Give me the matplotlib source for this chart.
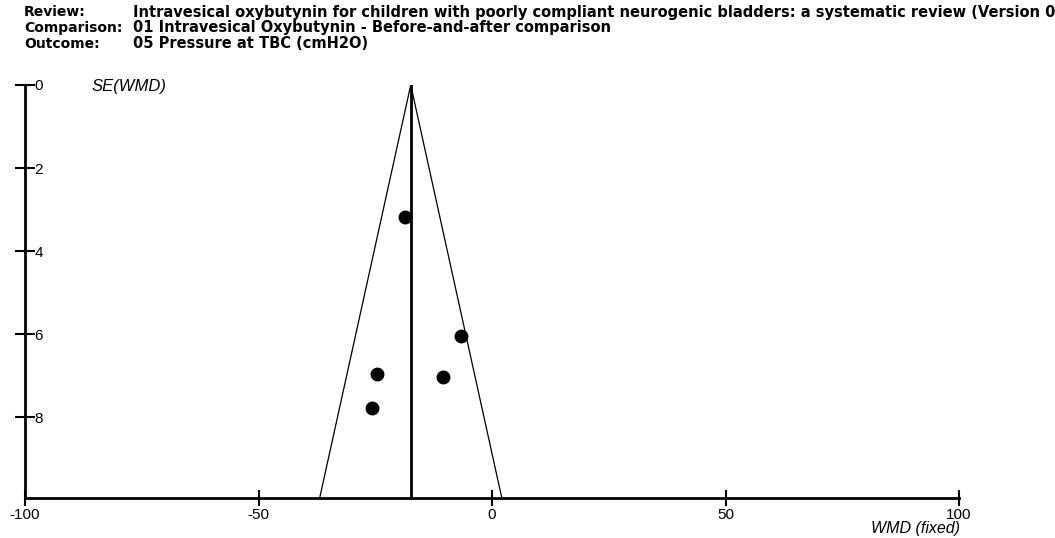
import matplotlib
matplotlib.use("Agg")
import matplotlib.pyplot as plt
import numpy as np

# Data
wmd = [-18.6, -6.7, -24.6, -10.5, -25.8]
se = [3.17, 6.05, 6.96, 7.04, 7.78]
pooled = -17.4
se_max = 9.95
x_ticks = [-100, -50, 0, 50, 100]
y_ticks = [0, 2, 4, 6, 8]
header_keys = ["Review:", "Comparison:", "Outcome:"]
header_vals = [
    "Intravesical oxybutynin for children with poorly compliant neurogenic bladders: a systematic review (Version 01)",
    "01 Intravesical Oxybutynin - Before-and-after comparison",
    "05 Pressure at TBC (cmH2O)",
]

plt.rcParams['font.family'] = ['Liberation Sans', 'DejaVu Sans']

fig = plt.figure(figsize=(10.55, 5.38), dpi=100)
ax = fig.add_axes([25/1055, 1-498/538, (959-25)/1055, (498-85)/538])

# funnel
ax.plot([pooled - 1.96*se_max, pooled, pooled + 1.96*se_max], [se_max, 0, se_max],
        color='black', lw=0.9)
ax.plot([pooled, pooled], [0, se_max], color='black', lw=2)
ax.plot(wmd, se, 'o', color='black', markersize=9)

ax.set_xlim(-100, 100)
ax.set_ylim(se_max, 0)
for s in ['top', 'right']:
    ax.spines[s].set_visible(False)
ax.spines['left'].set_linewidth(2)
ax.spines['bottom'].set_linewidth(2)

ax.set_xticks(x_ticks)
ax.set_xticklabels([str(v) for v in x_ticks])
ax.tick_params(axis='x', direction='inout', length=11, width=1.5, labelsize=11, pad=2)
ax.set_yticks(y_ticks)
ax.set_yticklabels([str(v) for v in y_ticks])
ax.tick_params(axis='y', direction='inout', length=14, width=1.5, labelsize=11, pad=-14)
for lab in ax.get_yticklabels():
    lab.set_horizontalalignment('left')

ax.text(92/1055, 1-86/538, "SE(WMD)", transform=fig.transFigure, fontsize=12,
        style='italic', va='center', ha='left')
ax.text(960/1055, 1-528/538, "WMD (fixed)", transform=fig.transFigure, fontsize=11.5,
        style='italic', va='center', ha='right')

ys = [12, 28, 44]
for k, v, y in zip(header_keys, header_vals, ys):
    fig.text(24/1055, 1-y/538, k, fontsize=10, va='center', ha='left',
             family='DejaVu Sans', weight='bold')
    fig.text(133/1055, 1-y/538, v, fontsize=10.5, va='center', ha='left',
             family='DejaVu Sans', weight='bold')

fig.savefig("out.png", dpi=100)
